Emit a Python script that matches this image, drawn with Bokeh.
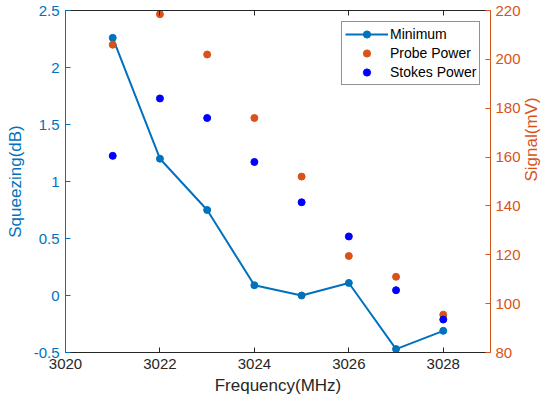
import math

from bokeh.plotting import figure
from bokeh.models import Range1d, LinearAxis, FixedTicker, Legend, LegendItem
from bokeh.embed import file_html
from bokeh.resources import INLINE

# Measurements per pump frequency
freq = [3021, 3022, 3023, 3024, 3025, 3026, 3027, 3028]
minimum_db = [2.26, 1.20, 0.75, 0.09, 0.00, 0.11, -0.47, -0.31]
probe_mv = [206, 218.5, 202, 176, 152, 119.5, 111, 95.5]
stokes_mv = [160.5, 184, 176, 158, 141.5, 127.5, 105.5, 93.5]

x_ticks = [3020, 3022, 3024, 3026, 3028]
x_tick_labels = ["3020", "3022", "3024", "3026", "3028"]
left_ticks = [-0.5, 0, 0.5, 1, 1.5, 2, 2.5]
left_tick_labels = ["-0.5", "0", "0.5", "1", "1.5", "2", "2.5"]
right_ticks = [80, 100, 120, 140, 160, 180, 200, 220]
right_tick_labels = ["80", "100", "120", "140", "160", "180", "200", "220"]

BLUE = "#0072BD"
ORANGE = "#D95319"
STOKES = "#0000FF"
DARK = "#262626"
FONT = "Liberation Sans"
TICK_SIZE = "15px"
LABEL_SIZE = "17px"

p = figure(width=553, height=410, output_backend="svg", toolbar_location=None,
           x_range=Range1d(3020, 3029), y_range=Range1d(-0.5, 2.5),
           min_border_left=65, min_border_right=59, min_border_top=10,
           min_border_bottom=58, x_axis_label="Frequency(MHz)",
           y_axis_label="Squeezing(dB)")
p.extra_y_ranges = {"signal": Range1d(80, 220)}
p.xgrid.visible = False
p.ygrid.visible = False
p.outline_line_color = None
p.background_fill_color = "white"
p.border_fill_color = "white"


def style_axis(ax, color, ticks, labels):
    ax.ticker = FixedTicker(ticks=ticks)
    ax.major_label_overrides = {t: s for t, s in zip(ticks, labels)}
    ax.axis_line_color = color
    ax.major_tick_line_color = color
    ax.minor_tick_line_color = None
    ax.major_tick_in = 5
    ax.major_tick_out = 0
    ax.major_label_text_color = color
    ax.major_label_text_font = FONT
    ax.major_label_text_font_size = TICK_SIZE
    ax.axis_label_text_color = color
    ax.axis_label_text_font = FONT
    ax.axis_label_text_font_size = LABEL_SIZE
    ax.axis_label_text_font_style = "normal"


style_axis(p.xaxis[0], DARK, x_ticks, x_tick_labels)
p.xaxis[0].major_label_standoff = 6
p.xaxis[0].axis_label_standoff = 4
style_axis(p.yaxis[0], BLUE, left_ticks, left_tick_labels)
p.yaxis[0].major_label_standoff = 6
p.yaxis[0].axis_label_standoff = 6

right = LinearAxis(y_range_name="signal", axis_label="Signal(mV)")
style_axis(right, ORANGE, right_ticks, right_tick_labels)
right.major_label_standoff = 5
right.axis_label_standoff = 8
# read the right-hand label bottom-to-top, like the left one
right.axis_label_orientation = math.pi / 2
p.add_layout(right, "right")

top = LinearAxis()
style_axis(top, DARK, x_ticks, [""] * len(x_ticks))
top.major_label_text_font_size = "0px"
top.major_label_standoff = 0
p.add_layout(top, "above")

min_line = p.line(freq, minimum_db, line_color=BLUE, line_width=2)
min_dots = p.scatter(freq, minimum_db, marker="circle", size=7,
                     fill_color=BLUE, line_color=BLUE)
probe = p.scatter(freq, probe_mv, y_range_name="signal", marker="circle",
                  size=7, fill_color=ORANGE, line_color=ORANGE)
stokes = p.scatter(freq, stokes_mv, y_range_name="signal", marker="circle",
                   size=7, fill_color=STOKES, line_color=STOKES)

legend = Legend(items=[
    LegendItem(label="Minimum", renderers=[min_line, min_dots]),
    LegendItem(label="Probe Power", renderers=[probe]),
    LegendItem(label="Stokes Power", renderers=[stokes]),
], location=(276, 267))
legend.border_line_color = DARK
legend.border_line_width = 1
legend.background_fill_color = "white"
legend.background_fill_alpha = 1
legend.label_text_font = FONT
legend.label_text_font_size = "14px"
legend.label_text_color = "black"
legend.glyph_width = 43
legend.glyph_height = 18
legend.label_height = 18
legend.label_standoff = 2
legend.spacing = 1
legend.padding = 3
legend.margin = 0
p.add_layout(legend, "center")

open("out.html", "w").write(file_html(p, INLINE))
